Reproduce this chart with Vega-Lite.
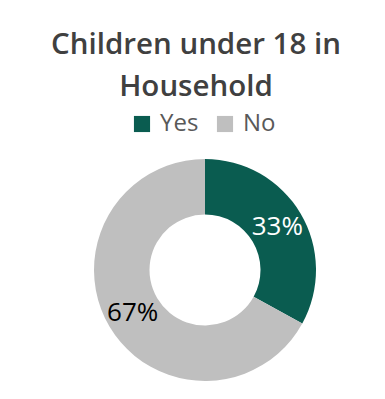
{
  "$schema": "https://vega.github.io/schema/vega-lite/v6.json",
  "width": 350,
  "height": 240,
  "padding": {"left": 30, "right": 5, "top": 29, "bottom": 5},
  "background": "white",
  "title": {
    "text": ["Children under 18 in", "Household"],
    "font": "Open Sans",
    "fontSize": 29.5,
    "fontWeight": 600,
    "color": "#404040",
    "lineHeight": 42,
    "anchor": "middle",
    "dx": -9,
    "offset": 10
  },
  "data": {
    "values": [
      {"category": "Yes", "value": 33, "label": "33%"},
      {"category": "No", "value": 67, "label": "67%"}
    ]
  },
  "encoding": {
    "theta": {"field": "value", "type": "quantitative", "stack": true},
    "order": {"field": "category", "sort": "descending"}
  },
  "layer": [
    {
      "mark": {"type": "arc", "outerRadius": 111, "innerRadius": 55.5},
      "encoding": {
        "color": {
          "field": "category",
          "type": "nominal",
          "scale": {"domain": ["Yes", "No"], "range": ["#0a5c50", "#bfbfbf"]},
          "legend": {
            "title": null,
            "orient": "none",
            "legendX": 100,
            "legendY": -38,
            "direction": "horizontal",
            "symbolType": "square",
            "symbolSize": 260,
            "symbolStrokeWidth": 0,
            "labelFont": "Open Sans",
            "labelFontSize": 24,
            "labelColor": "#595959",
            "labelOffset": 6,
            "columnPadding": 14
          }
        }
      }
    },
    {
      "mark": {"type": "text", "radius": 84, "font": "Open Sans", "fontSize": 26},
      "encoding": {
        "text": {"field": "label"},
        "color": {
          "field": "category",
          "type": "nominal",
          "scale": {"domain": ["Yes", "No"], "range": ["#ffffff", "#000000"]},
          "legend": null
        }
      }
    }
  ],
  "resolve": {"scale": {"color": "independent"}},
  "config": {"view": {"stroke": null}}
}
